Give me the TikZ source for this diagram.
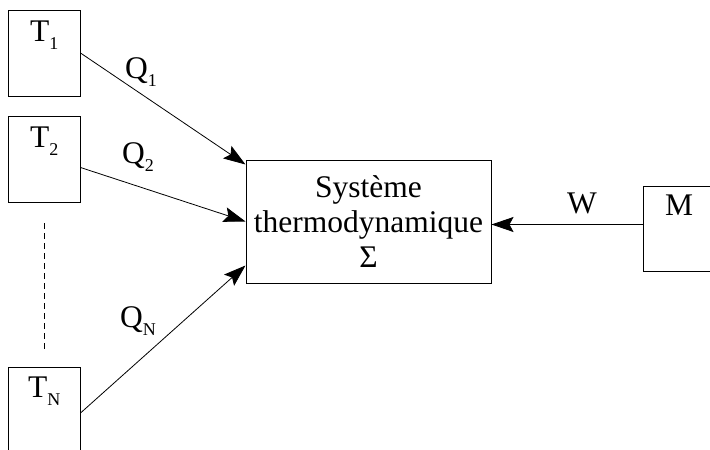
\documentclass[tikz,border=0pt]{standalone}
\usepackage{fontspec}
\setmainfont{Liberation Serif}
\usetikzlibrary{calc,arrows.meta}
\newcommand\idx[1]{\raisebox{-8pt}{\fontsize{18}{18}\selectfont #1}}

\begin{document}
\begin{tikzpicture}[x=1pt,y=-1pt,
    reservoir/.style={draw, line width=1pt, minimum width=72pt, minimum height=86pt, inner sep=0pt},
    txt/.style={anchor=base west, inner sep=0pt, font=\fontsize{31.5}{36}\selectfont},
    flow/.style={line width=0.8pt, -{Stealth[length=22pt,width=15pt,inset=4pt]}}]
	%%%%% START %%%%%
	\clip (0,0) rectangle (710,450);
	
	% thermostats
	\node[reservoir] (T1) at (44, 53) {};
	\node[reservoir] (T2) at (44, 159.5) {};
	\node[reservoir] (TN) at (44, 410) {};
	\node[txt] at (30, 41) {T\idx{1}};
	\node[txt] at (30, 147) {T\idx{2}};
	\node[txt] at (28, 397) {T\idx{N}};
	\draw[line width=0.8pt, dash pattern=on 6pt off 4pt, shorten <=20pt, shorten >=17pt] (T2.south) -- (TN.north);
	
	% machine
	\node[reservoir, minimum height=85pt] (M) at (679, 228.5) {};
	\node[txt] at (665, 215) {M};
	
	% systeme
	\node[draw, line width=1pt, minimum width=245pt, minimum height=123pt, align=center,
	      font=\fontsize{31.5}{35}\selectfont] (sys) at (368.5, 221.5) {Système\\thermodynamique\\Σ};
	
	\draw[flow] (T1.east) -- ($(sys.north west)+(0,5)$);
	\draw[flow] ($(T2.east)+(0,8)$) -- (sys.west);
	\draw[flow] ($(TN.east)+(0,3)$) -- ($(sys.south west)+(0,-18)$);
	\draw[flow] ($(M.west)+(0,-4)$) coordinate (w) -- (w -| sys.east);
	
	\node[txt] at (125, 78) {Q\idx{1}};
	\node[txt] at (122, 163) {Q\idx{2}};
	\node[txt] at (120, 327) {Q\idx{N}};
	\node[txt] at (567, 213) {W};
	%%%%% END %%%%%
\end{tikzpicture}
\end{document}
